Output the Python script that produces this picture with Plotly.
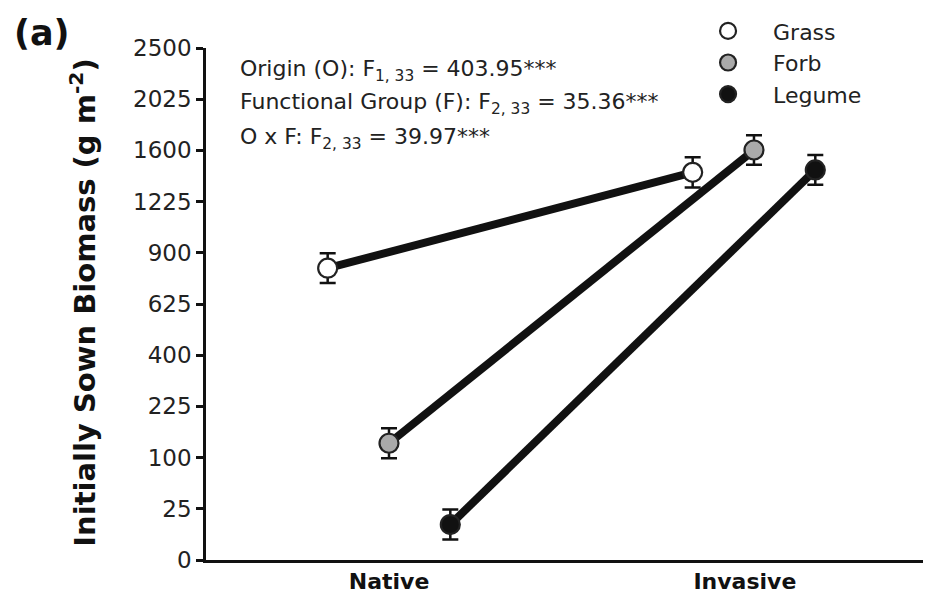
import numpy as np
import plotly.graph_objects as go

# ---- data ----
origins = ["Native", "Invasive"]
groups = ["Grass", "Forb", "Legume"]
# means in g m^-2
grass_mean = [812, 1433]
forb_mean = [130, 1603]
legume_mean = [12, 1451]
# standard errors on the square-root scale (sqrt(g m^-2))
grass_se_sqrt = [1.45, 1.47]
forb_se_sqrt = [1.47, 1.45]
legume_se_sqrt = [1.46, 1.45]
y_tick_values = [0, 25, 100, 225, 400, 625, 900, 1225, 1600, 2025, 2500]
stats_lines = [
    "Origin (O): F<sub>1, 33</sub> = 403.95***",
    "Functional Group (F): F<sub>2, 33</sub> = 35.36***",
    "O x F: F<sub>2, 33</sub> = 39.97***",
]

means = {"Grass": grass_mean, "Forb": forb_mean, "Legume": legume_mean}
ses = {"Grass": grass_se_sqrt, "Forb": forb_se_sqrt, "Legume": legume_se_sqrt}
fills = {"Grass": "white", "Forb": "#aaaaaa", "Legume": "#111111"}
offsets = {"Grass": -0.168, "Forb": 0.0, "Legume": 0.168}
origin_pos = np.array([1.0, 2.0])

FONT = "DejaVu Sans"

fig = go.Figure()

# thick connecting lines
for g in groups:
    m = np.array(means[g], dtype=float)
    fig.add_trace(go.Scatter(
        x=origin_pos + offsets[g], y=np.sqrt(m), mode="lines",
        line=dict(color="#111111", width=8), showlegend=False, hoverinfo="skip"))

# markers with error bars (square-root scale)
for g in groups:
    m = np.array(means[g], dtype=float)
    fig.add_trace(go.Scatter(
        x=origin_pos + offsets[g], y=np.sqrt(m), mode="markers", name=g,
        marker=dict(size=19, color=fills[g], line=dict(color="#222222", width=2.2)),
        error_y=dict(type="data", array=ses[g],
                     color="#111111", thickness=2.5, width=8)))

for i, t in enumerate(stats_lines):
    fig.add_annotation(xref="paper", yref="paper", x=0.044, y=[0.957, 0.891, 0.824][i],
                       xanchor="left", yanchor="middle", text=t, showarrow=False,
                       font=dict(family=FONT, size=22, color="#222222"))

fig.add_annotation(xref="paper", yref="paper", x=-0.17, y=0.502, textangle=-90,
                   xanchor="center", yanchor="middle", showarrow=False,
                   text="Initially Sown Biomass (g m<sup>-2</sup>)",
                   font=dict(family=FONT, size=29, color="#111111", weight="bold"))

fig.add_annotation(xref="paper", yref="paper", x=-0.2676, y=1.029, xanchor="left", yanchor="middle",
                   showarrow=False, text="(a)",
                   font=dict(family=FONT, size=35, color="#111111", weight="bold"))

# the page body adds an 8px offset, so the figure is 8px smaller and margins shifted
fig.update_layout(
    width=923, height=590,
    margin=dict(l=198, r=0, t=40, b=38, autoexpand=False),
    paper_bgcolor="white", plot_bgcolor="white",
    showlegend=True,
    legend=dict(x=0.658, y=1.074, xanchor="left", yanchor="top", bgcolor="rgba(0,0,0,0)",
                font=dict(family=FONT, size=22, color="#222222"),
                itemwidth=80),
    xaxis=dict(range=[0.4986, 2.485], tickvals=[1.0, 1.975], ticktext=origins,
               showgrid=False, zeroline=False, showline=True, linecolor="#111111", linewidth=2.5,
               ticks="", tickfont=dict(family=FONT, size=22, color="#111111", weight="bold")),
    yaxis=dict(range=[0, 50], tickvals=np.sqrt(y_tick_values), ticktext=[str(v) for v in y_tick_values],
               showgrid=False, zeroline=False, showline=True, linecolor="#111111", linewidth=2.5,
               ticks="outside", ticklen=7, tickwidth=2.5, tickcolor="#111111",
               tickfont=dict(family=FONT, size=23, color="#222222")),
)

fig.write_html("out.html")
